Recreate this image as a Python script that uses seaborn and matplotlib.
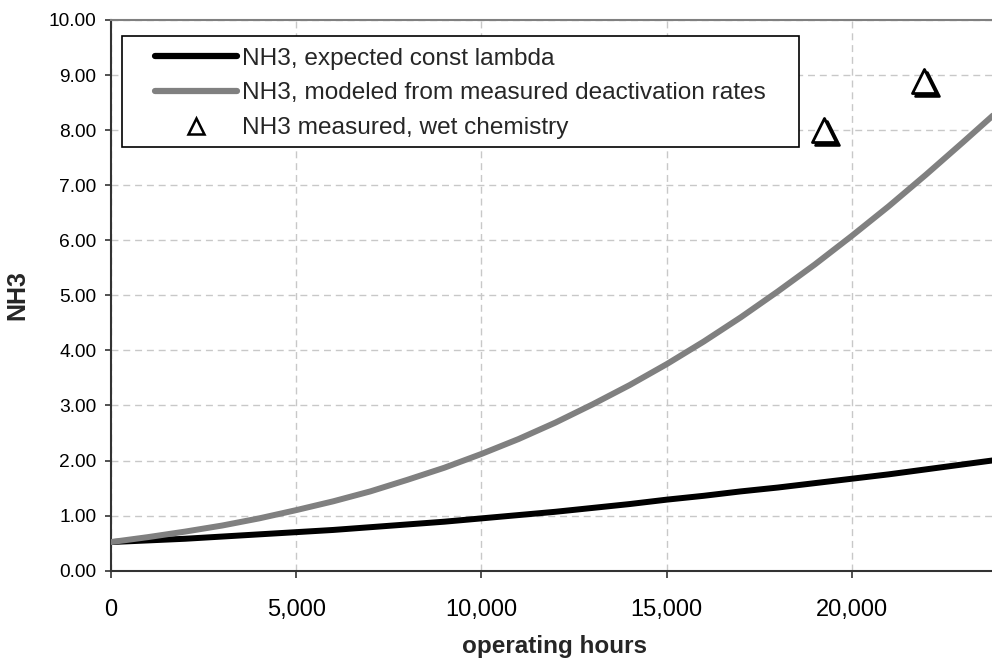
import numpy as np
import pandas as pd
import seaborn as sns
import matplotlib
matplotlib.use("Agg")
import matplotlib.pyplot as plt
from matplotlib.lines import Line2D
from matplotlib.patches import Rectangle
from matplotlib.ticker import FuncFormatter, MultipleLocator
import matplotlib.transforms as mtransforms

# ---- data ----
hours = [0, 1000, 2000, 3000, 4000, 5000, 6000, 7000, 8000, 9000, 10000, 11000,
         12000, 13000, 14000, 15000, 16000, 17000, 18000, 19000, 20000, 21000,
         22000, 23000, 24000]
nh3_expected = [0.52, 0.55, 0.58, 0.62, 0.66, 0.70, 0.74, 0.79, 0.84, 0.89, 0.95,
                1.01, 1.07, 1.14, 1.21, 1.29, 1.36, 1.44, 1.51, 1.59, 1.67, 1.75,
                1.84, 1.93, 2.02]
nh3_modeled = [0.52, 0.61, 0.71, 0.82, 0.95, 1.10, 1.26, 1.44, 1.65, 1.87, 2.12,
               2.39, 2.69, 3.02, 3.37, 3.75, 4.16, 4.60, 5.07, 5.56, 6.08, 6.62,
               7.19, 7.78, 8.38]
meas_hours = [19250, 21950]
meas_nh3 = [8.00, 8.90]

labels = ["NH3, expected const lambda",
          "NH3, modeled from measured deactivation rates",
          "NH3 measured, wet chemistry"]

sns.set_theme(style="white")
plt.rcParams['font.family'] = ['Liberation Sans', 'DejaVu Sans']

W, H = 992, 658
fig = plt.figure(figsize=(W / 100, H / 100), dpi=100)
ax_left, ax_right, ax_top, ax_bottom = 111, 1000, 20, 570.7
ax = fig.add_axes([ax_left / W, 1 - ax_bottom / H, (ax_right - ax_left) / W,
                   (ax_bottom - ax_top) / H])

df = pd.DataFrame({"hours": hours, "exp": nh3_expected, "mod": nh3_modeled})
sns.lineplot(data=df, x="hours", y="exp", ax=ax, color="black", linewidth=4.3,
             zorder=3)
sns.lineplot(data=df, x="hours", y="mod", ax=ax, color="#808080", linewidth=4.3,
             zorder=4)

mdf = pd.DataFrame({"h": meas_hours, "v": meas_nh3})
shadow = mtransforms.offset_copy(ax.transData, fig=fig, x=2.5, y=-3.0,
                                 units='dots')
sns.scatterplot(data=mdf, x="h", y="v", ax=ax, marker="^", s=300, color="black",
                edgecolor="black", linewidth=1.8, transform=shadow, zorder=5)
sns.scatterplot(data=mdf, x="h", y="v", ax=ax, marker="^", s=300, color="white",
                edgecolor="black", linewidth=2.0, zorder=6)

ax.set_xlim(0, 24000)
ax.set_ylim(0, 10)
ax.xaxis.set_major_locator(MultipleLocator(5000))
ax.yaxis.set_major_locator(MultipleLocator(1))
ax.xaxis.set_major_formatter(FuncFormatter(lambda v, p: f"{v:,.0f}"))
ax.yaxis.set_major_formatter(FuncFormatter(lambda v, p: f"{v:.2f}"))
ax.grid(True, color="#c8c8c8", linestyle=(0, (5, 3.5)), linewidth=1)
ax.set_axisbelow(True)

for s in ["left", "bottom"]:
    ax.spines[s].set_color("#333333")
    ax.spines[s].set_linewidth(1.5)
ax.spines["top"].set_color("#808080")
ax.spines["top"].set_linewidth(1.5)
ax.spines["right"].set_visible(False)

ax.tick_params(axis="x", which="major", direction="out", length=5, width=1.2,
               color="#333333", labelsize=17, pad=15.5, bottom=True)
ax.tick_params(axis="y", which="major", direction="out", length=4.5, width=1.2,
               color="#333333", labelsize=13.8, pad=6, left=True)
for t in ax.get_xticklabels() + ax.get_yticklabels():
    t.set_color("black")

ax.set_xlabel("operating hours", fontsize=17.5, fontweight="bold")
ax.set_ylabel("NH3", fontsize=18, fontweight="bold")
ax.xaxis.set_label_coords((555 - ax_left) / (ax_right - ax_left),
                          -(635 - ax_bottom) / (ax_bottom - ax_top))
ax.yaxis.set_label_coords(-(111 - 29) / (ax_right - ax_left), 0.5)

# legend box
fig.patches.append(Rectangle((122 / W, 1 - 147 / H), (799 - 122) / W,
                             (147 - 36) / H, transform=fig.transFigure,
                             facecolor="white", edgecolor="black", linewidth=1.2,
                             zorder=10))
handles = [Line2D([], [], color="black", linewidth=4.5, solid_capstyle="round"),
           Line2D([], [], color="#808080", linewidth=4.5),
           Line2D([], [], color="black", marker="^", markerfacecolor="white",
                  markeredgecolor="black", markersize=11, markeredgewidth=1.8,
                  linestyle="none")]
leg = fig.legend(handles, labels, loc="upper left",
                 bbox_to_anchor=(155 / W, 1 - 47.5 / H),
                 bbox_transform=fig.transFigure, frameon=False, borderpad=0,
                 borderaxespad=0, fontsize=17.6, handlelength=3.36,
                 handletextpad=0.2, labelspacing=0.52)
leg.set_zorder(11)

fig.savefig("out.png", dpi=100)
